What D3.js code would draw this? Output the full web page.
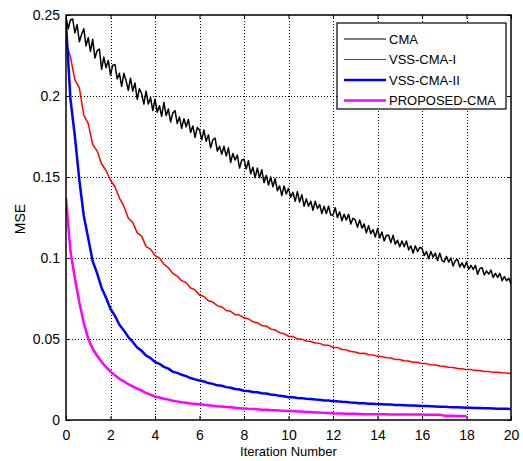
<!DOCTYPE html>
<html>
<head>
<meta charset="utf-8">
<script src="https://cdn.jsdelivr.net/npm/d3@7"></script>
<style>
  body { margin: 0; background: #fff; }
  svg { display: block; font-family: "Liberation Sans", Arial, sans-serif; }
  .grid line { stroke: #000; stroke-width: 1; stroke-dasharray: 1,2; }
  .axis path { display: none; }
  .axis line { stroke: #000; }
  .axis text { font-size: 14px; fill: #000; }
</style>
</head>
<body>
<div id="chart"></div>
<script>
// iteration axis in units shown on the chart (0..20)
var xTicks = [0, 2, 4, 6, 8, 10, 12, 14, 16, 18, 20];
var yTicks = [0, 0.05, 0.1, 0.15, 0.2, 0.25];
var yTickLabels = ["0", "0.05", "0.1", "0.15", "0.2", "0.25"];
var seriesNames = ["CMA", "VSS-CMA-I", "VSS-CMA-II", "PROPOSED-CMA"];

// CMA, sampled every 0.1
var cmaStep = 0.1;
var cmaValues = [
  0.249,0.2415,0.247,0.2475,0.239,0.244,0.2335,0.238,0.2415,0.231,
  0.236,0.2275,0.235,0.2235,0.228,0.229,0.2165,0.224,0.2175,0.222,
  0.213,0.219,0.2195,0.2105,0.214,0.206,0.214,0.2095,0.2035,0.211,
  0.203,0.208,0.198,0.2045,0.2015,0.195,0.203,0.195,0.199,0.191,
  0.198,0.190,0.194,0.1875,0.196,0.188,0.192,0.184,0.1895,0.191,
  0.183,0.187,0.180,0.186,0.181,0.1855,0.1775,0.1815,0.1745,0.1805,
  0.179,0.173,0.179,0.172,0.176,0.168,0.173,0.174,0.166,0.169,
  0.164,0.169,0.163,0.168,0.159,0.1645,0.1605,0.1635,0.1555,0.1605,
  0.161,0.155,0.160,0.152,0.156,0.1495,0.1555,0.1495,0.1545,0.1465,
  0.151,0.145,0.150,0.144,0.149,0.1415,0.1445,0.1385,0.1445,0.1395,
  0.143,0.1375,0.1405,0.135,0.141,0.1345,0.139,0.132,0.1365,0.132,
  0.135,0.1295,0.135,0.1305,0.133,0.1275,0.132,0.1275,0.132,0.1265,
  0.1265,0.131,0.125,0.1285,0.123,0.127,0.1235,0.127,0.121,0.1245,
  0.1235,0.119,0.1235,0.1185,0.121,0.1155,0.120,0.115,0.1175,0.113,
  0.118,0.1125,0.116,0.1105,0.114,0.114,0.1095,0.114,0.1085,0.111,
  0.107,0.1105,0.107,0.1105,0.105,0.1075,0.103,0.1075,0.104,0.1065,
  0.106,0.1015,0.104,0.0995,0.104,0.1005,0.103,0.0985,0.103,0.0985,
  0.0975,0.101,0.0975,0.100,0.095,0.0985,0.099,0.0945,0.097,0.094,
  0.0975,0.093,0.0955,0.093,0.0955,0.090,0.0935,0.094,0.0895,0.092,
  0.090,0.0925,0.088,0.0905,0.088,0.0905,0.086,0.0885,0.086,0.0875,0.084
];

// the other three sampled every 0.2
var vssStep = 0.2;
var vss1Values = [
  0.233,0.224,0.210,0.205,0.188,0.183,0.170,0.166,0.158,0.154,
  0.148,0.144,0.137,0.132,0.1245,0.122,0.1155,0.1135,0.107,0.1055,
  0.1015,0.1,0.0962,0.094,0.0905,0.0888,0.086,0.0848,0.0815,0.0803,
  0.0772,0.0762,0.0736,0.0728,0.0706,0.0698,0.0676,0.0671,0.0651,0.0648,
  0.0631,0.0625,0.0606,0.0601,0.0583,0.0579,0.0562,0.0556,0.0539,0.0533,
  0.0517,0.0515,0.0501,0.0499,0.0488,0.0485,0.0475,0.0473,0.0462,0.0461,
  0.0449,0.0448,0.0435,0.0433,0.0423,0.042,0.0411,0.0412,0.0403,0.0402,
  0.0394,0.0392,0.0384,0.0383,0.0374,0.0373,0.0366,0.0364,0.0357,0.0356,
  0.0348,0.0348,0.0341,0.034,0.0333,0.0332,0.0325,0.0324,0.0318,0.0317,
  0.0311,0.0311,0.0305,0.0305,0.0299,0.0299,0.0294,0.0295,0.0291,0.029,0.0287
];
var vss2Values = [
  0.245,0.198,0.175,0.148,0.126,0.112,0.098,0.0905,0.0815,0.0755,
  0.0685,0.0643,0.0588,0.0553,0.0512,0.0482,0.0448,0.0427,0.0398,0.0382,
  0.0358,0.0347,0.0328,0.0317,0.0298,0.0291,0.0279,0.0271,0.0259,0.0251,
  0.0244,0.0238,0.0228,0.0223,0.0214,0.0211,0.0203,0.0199,0.0191,0.0188,
  0.0181,0.0179,0.0173,0.0171,0.0165,0.0163,0.0157,0.0155,0.0149,0.0147,
  0.0141,0.0140,0.0136,0.0135,0.0131,0.0130,0.0126,0.0125,0.0121,0.0120,
  0.0116,0.0115,0.0112,0.0111,0.0108,0.0107,0.0104,0.0104,0.0101,0.0100,
  0.0098,0.0097,0.0095,0.0095,0.0093,0.0092,0.0091,0.0090,0.0089,0.0088,
  0.0087,0.0086,0.0085,0.0084,0.0082,0.0082,0.0080,0.0079,0.0078,0.0077,
  0.0076,0.0075,0.0074,0.0074,0.0072,0.0072,0.0071,0.0070,0.0069,0.0069,0.0068
];
// proposed stops at 18
var proposedValues = [
  0.137,0.104,0.0875,0.0725,0.0598,0.0502,0.0438,0.0397,0.0358,0.0327,
  0.0298,0.0277,0.0254,0.0239,0.0221,0.0208,0.0194,0.0182,0.0168,0.0156,
  0.0145,0.0139,0.0131,0.0126,0.0119,0.0115,0.0110,0.0106,0.0102,0.0100,
  0.0097,0.0094,0.0091,0.0088,0.0085,0.0083,0.0080,0.0078,0.0075,0.0073,
  0.0071,0.0069,0.0068,0.0066,0.0064,0.0063,0.0061,0.0060,0.0058,0.0057,
  0.0056,0.0055,0.0053,0.0052,0.0050,0.0049,0.0047,0.0046,0.0044,0.0043,
  0.0041,0.0040,0.0040,0.0039,0.0038,0.0038,0.0037,0.0036,0.0036,0.0035,
  0.0035,0.0035,0.0035,0.0034,0.0034,0.0034,0.0034,0.0034,0.0034,0.0034,
  0.0034,0.0033,0.0033,0.0032,0.0032,0.0027,0.0026,0.0026,0.0025,0.0025,
  0.0025
];

var width = 523, height = 461;
var margin = {top: 15, right: 12, bottom: 41, left: 66};
var plotW = width - margin.left - margin.right;
var plotH = height - margin.top - margin.bottom;

var svg = d3.select("#chart").append("svg")
    .attr("width", width)
    .attr("height", height);

var g = svg.append("g")
    .attr("transform", "translate(" + margin.left + "," + margin.top + ")");

var x = d3.scaleLinear().domain([0, 20]).range([0, plotW]);
var y = d3.scaleLinear().domain([0, 0.25]).range([plotH, 0]);

// dotted grid
var grid = g.append("g").attr("class", "grid");
grid.selectAll(".vg")
    .data(xTicks.slice(1, -1)).enter()
    .append("line")
    .attr("x1", function(d) { return Math.round(x(d)) + 0.5; })
    .attr("x2", function(d) { return Math.round(x(d)) + 0.5; })
    .attr("y1", 0).attr("y2", plotH);
grid.selectAll(".hg")
    .data(yTicks.slice(1, -1)).enter()
    .append("line")
    .attr("y1", function(d) { return Math.round(y(d)) + 0.5; })
    .attr("y2", function(d) { return Math.round(y(d)) + 0.5; })
    .attr("x1", 0).attr("x2", plotW);

function toPoints(vals, step) {
    return vals.map(function(v, i) { return [i * step, v]; });
}

var series = [
    {name: seriesNames[0], pts: toPoints(cmaValues, cmaStep), color: "#000000", w: 1.5},
    {name: seriesNames[1], pts: toPoints(vss1Values, vssStep), color: "#ff0000", w: 1.5},
    {name: seriesNames[2], pts: toPoints(vss2Values, vssStep), color: "#0000ff", w: 2.5},
    {name: seriesNames[3], pts: toPoints(proposedValues, vssStep), color: "#ff00ff", w: 2.5}
];

var line = d3.line()
    .x(function(d) { return x(d[0]); })
    .y(function(d) { return y(d[1]); });

g.append("defs").append("clipPath").attr("id", "clip")
    .append("rect").attr("width", plotW).attr("height", plotH);

g.append("g").attr("clip-path", "url(#clip)")
    .selectAll("path")
    .data(series).enter()
    .append("path")
    .attr("d", function(d) { return line(d.pts); })
    .attr("fill", "none")
    .attr("stroke", function(d) { return d.color; })
    .attr("stroke-width", function(d) { return d.w; })
    .attr("stroke-linejoin", "round");

// axes with inward ticks on all four sides
g.append("g").attr("class", "axis")
    .attr("transform", "translate(0," + plotH + ")")
    .call(d3.axisBottom(x).tickValues(xTicks).tickSize(-4).tickPadding(10));
g.append("g").attr("class", "axis")
    .call(d3.axisTop(x).tickValues(xTicks).tickSize(-4).tickFormat(""));
g.append("g").attr("class", "axis")
    .call(d3.axisLeft(y).tickValues(yTicks).tickSize(-4).tickPadding(6)
        .tickFormat(function(d, i) { return yTickLabels[i]; }));
g.append("g").attr("class", "axis")
    .attr("transform", "translate(" + plotW + ",0)")
    .call(d3.axisRight(y).tickValues(yTicks).tickSize(-4).tickFormat(""));

g.append("rect")
    .attr("width", plotW).attr("height", plotH)
    .attr("fill", "none").attr("stroke", "#000").attr("stroke-width", 1.5);

// axis titles
svg.append("text")
    .attr("x", margin.left + plotW / 2)
    .attr("y", 456)
    .attr("text-anchor", "middle")
    .style("font-size", "13px")
    .text("Iteration Number");
svg.append("text")
    .attr("transform", "translate(25,219)rotate(-90)")
    .attr("text-anchor", "middle")
    .style("font-size", "14px")
    .text("MSE");

// legend
var legend = svg.append("g").attr("transform", "translate(337,23)");
legend.append("rect")
    .attr("width", 169).attr("height", 86)
    .attr("fill", "#fff").attr("stroke", "#000").attr("stroke-width", 1.2);
var rows = legend.selectAll(".row")
    .data(series).enter()
    .append("g")
    .attr("transform", function(d, i) { return "translate(0," + (16 + i * 20.5) + ")"; });
rows.append("line")
    .attr("x1", 7).attr("x2", 49)
    .attr("stroke", function(d) { return d.color; })
    .attr("stroke-width", function(d, i) { return i < 2 ? 1 : 2.5; });
rows.append("text")
    .attr("x", 52).attr("dy", "0.36em")
    .style("font-size", "13px")
    .text(function(d) { return d.name; });
</script>
</body>
</html>
